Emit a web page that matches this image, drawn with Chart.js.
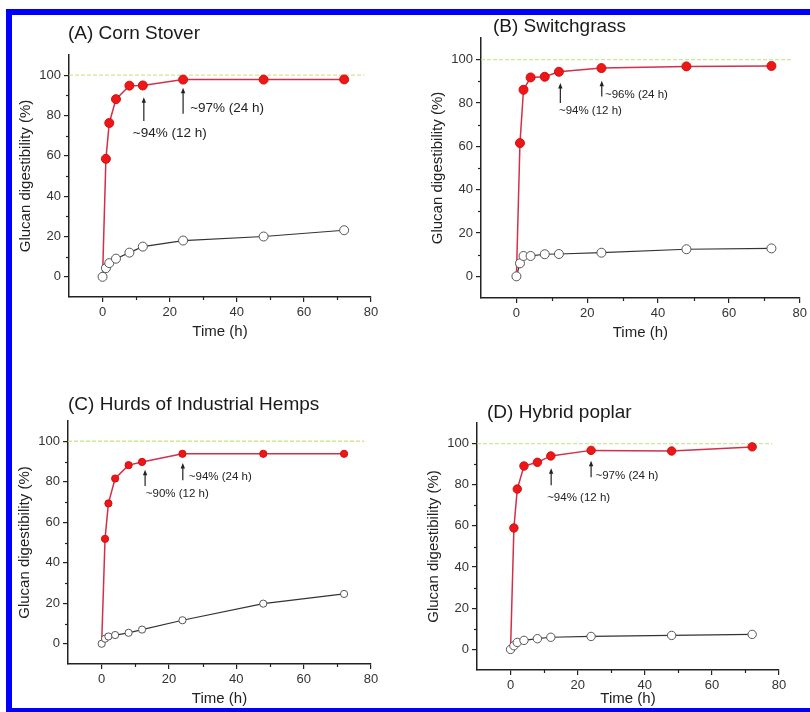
<!DOCTYPE html>
<html>
<head>
<meta charset="utf-8">
<script src="https://cdn.jsdelivr.net/npm/chart.js@4.4.0/dist/chart.umd.min.js"></script>
<style>
body{margin:0;width:810px;height:712px;overflow:hidden;background:#fff;position:relative}
canvas{position:absolute}
#frame{position:absolute;left:6px;top:9px;width:830px;height:703px;box-sizing:border-box;
  border-top:6px solid #0000ff;border-left:6px solid #0000ff;border-bottom:4px solid #0000ff;pointer-events:none}
</style>
</head>
<body>
<canvas id="cA" width="405" height="356" style="left:0;top:0"></canvas>
<canvas id="cB" width="405" height="356" style="left:405px;top:0"></canvas>
<canvas id="cC" width="405" height="356" style="left:0;top:356px"></canvas>
<canvas id="cD" width="405" height="356" style="left:405px;top:356px"></canvas>
<div id="frame"></div>
<script>
const FONT='"Liberation Sans", Arial, sans-serif';

// sampling times (h)
const hours=[0,1,2,4,8,12,24,48,72];

// glucan digestibility (%), pretreated (red) and untreated (open)
const cornTreated=[0,58.5,76.3,88.1,94.8,94.9,97.8,97.8,97.9];
const cornUntreated=[0,4.3,6.8,9.0,12.0,15.0,18.0,20.0,23.1];
const switchTreated=[0,61.5,86.1,91.8,92.1,94.4,96.1,96.9,97.1];
const switchUntreated=[0,6.0,9.4,9.4,10.2,10.3,10.9,12.5,12.9];
const hempTreated=[0,51.8,69.3,81.6,88.2,89.8,93.8,93.8,93.8];
const hempUntreated=[0,2.5,3.6,4.3,5.4,7.0,11.6,19.8,24.6];
const poplarTreated=[0,59.0,77.9,89.1,90.9,94.0,96.7,96.4,98.4];
const poplarUntreated=[0,1.8,3.4,4.4,5.2,5.9,6.3,6.8,7.3];

// 100% reference line
const refLevel=100;
const refSpan=[-10,78];

// axis ticks
const xTicks=[0,20,40,60,80];
const xMinor=[10,30,50,70];
const yTicks=[0,20,40,60,80,100];
const yMinor=[10,30,50,70,90];

// arrows: [x, from y, to y]  notes: [text, x start, y]
const arrowsA=[[12.3,77.3,89.1],[24,80.9,93.8]];
const notesA=[['~94% (12 h)',9.0,71],['~97% (24 h)',26.1,83.7]];
const arrowsB=[[12.4,80,89.2],[24.1,83,90.3]];
const notesB=[['~94% (12 h)',12,76.4],['~96% (24 h)',25,83.8]];
const arrowsC=[[12.9,77.9,85.9],[24.1,80.7,89.2]];
const notesC=[['~90% (12 h)',13.1,74.1],['~94% (24 h)',25.9,82.3]];
const arrowsD=[[12.1,79.8,88],[24,83.6,91.7]];
const notesD=[['~94% (12 h)',10.9,73.8],['~97% (24 h)',25.3,84.2]];

const panels=[
  {id:'cA',title:'(A) Corn Stover',red:cornTreated,open:cornUntreated,arrows:arrowsA,notes:notesA,
   box:{l:69,r:371,t:55,b:297,xh:48,tx:68,ty:34},noteSize:13.5,rad:4.5},
  {id:'cB',title:'(B) Switchgrass',red:switchTreated,open:switchUntreated,arrows:arrowsB,notes:notesB,
   box:{l:76,r:396,t:38,b:298,xh:48,tx:88,ty:27},noteSize:11.5,rad:4.5},
  {id:'cC',title:'(C) Hurds of Industrial Hemps',red:hempTreated,open:hempUntreated,arrows:arrowsC,notes:notesC,
   box:{l:68,r:371,t:65,b:308,xh:48,tx:68,ty:49},noteSize:11.5,rad:3.6},
  {id:'cD',title:'(D) Hybrid poplar',red:poplarTreated,open:poplarUntreated,arrows:arrowsD,notes:notesD,
   box:{l:72,r:374,t:67,b:314,xh:42,tx:82,ty:57},noteSize:11.5,rad:4.2}
];

function decor(p){
  return {id:'decor',afterDraw(chart){
    const c=chart.ctx, xs=chart.scales.x, ys=chart.scales.y, a=chart.chartArea;
    c.save();
    // minor ticks
    c.strokeStyle='#222'; c.lineWidth=1.2;
    xMinor.forEach(v=>{const px=Math.round(xs.getPixelForValue(v))+0.5;
      c.beginPath(); c.moveTo(px,a.bottom); c.lineTo(px,a.bottom+3); c.stroke();});
    yMinor.forEach(v=>{const py=Math.round(ys.getPixelForValue(v))+0.5;
      c.beginPath(); c.moveTo(a.left,py); c.lineTo(a.left-3,py); c.stroke();});
    // arrows
    c.strokeStyle='#222'; c.fillStyle='#222'; c.lineWidth=1.2;
    p.arrows.forEach(([x,y0,y1])=>{
      const px=xs.getPixelForValue(x), pb=ys.getPixelForValue(y0), pt=ys.getPixelForValue(y1);
      c.beginPath(); c.moveTo(px,pb); c.lineTo(px,pt+4); c.stroke();
      c.beginPath(); c.moveTo(px,pt); c.lineTo(px-2.2,pt+5.5); c.lineTo(px+2.2,pt+5.5); c.closePath(); c.fill();
    });
    // notes
    c.font=p.noteSize+'px '+FONT; c.textBaseline='middle'; c.textAlign='left'; c.fillStyle='#222';
    p.notes.forEach(([t,x,y])=>c.fillText(t,xs.getPixelForValue(x),ys.getPixelForValue(y)));
    // panel title
    c.font='19px '+FONT; c.fillStyle='#1a1a1a'; c.fillText(p.title,p.box.tx,p.box.ty);
    c.restore();
  }};
}

panels.forEach(p=>{
  const cv=document.getElementById(p.id);
  const W=cv.width, H=cv.height, b=p.box;
  const toPts=arr=>hours.map((h,i)=>({x:h,y:arr[i]}));
  new Chart(cv,{
    type:'line',
    data:{datasets:[
      {data:toPts(p.open),borderColor:'#333',borderWidth:1.2,pointBackgroundColor:'#fff',
       pointBorderColor:'#555',pointBorderWidth:1,pointRadius:p.rad,tension:0},
      {data:toPts(p.red),borderColor:'#d2304a',borderWidth:1.5,pointBackgroundColor:'#ee1616',
       pointBorderColor:'#d01010',pointBorderWidth:1,pointRadius:ctx=>ctx.dataIndex===0?0:p.rad,tension:0},
      {data:refSpan.map(x=>({x:x,y:refLevel})),borderColor:'rgba(196,228,130,0.85)',borderWidth:1.3,
       borderDash:[4,2],pointRadius:0}
    ]},
    options:{
      responsive:false,animation:false,events:[],
      layout:{padding:{left:b.l-56,right:W-b.r,top:b.t,bottom:H-b.b-b.xh}},
      plugins:{legend:{display:false},tooltip:{enabled:false}},
      scales:{
        x:{type:'linear',min:-10,max:80,
          afterBuildTicks:s=>{s.ticks=xTicks.map(v=>({value:v}));},
          afterFit:s=>{s.height=b.xh;},
          grid:{drawOnChartArea:false,drawTicks:true,tickLength:5,color:'#222',lineWidth:1.2},
          border:{color:'#222',width:1.5},
          ticks:{color:'#333',font:{size:13,family:FONT},padding:3,maxRotation:0,autoSkip:false},
          title:{display:true,text:'Time (h)',color:'#222',font:{size:15,family:FONT},padding:{top:0,bottom:4}}},
        y:{type:'linear',min:-10,max:110,
          afterBuildTicks:s=>{s.ticks=yTicks.map(v=>({value:v}));},
          afterFit:s=>{s.width=56;},
          grid:{drawOnChartArea:false,drawTicks:true,tickLength:5,color:'#222',lineWidth:1.2},
          border:{color:'#222',width:1.5},
          ticks:{color:'#333',font:{size:13,family:FONT},padding:3,autoSkip:false},
          title:{display:true,text:'Glucan digestibility (%)',color:'#222',font:{size:15,family:FONT},padding:{top:4,bottom:0}}}
      }
    },
    plugins:[decor(p)]
  });
});
</script>
</body>
</html>
